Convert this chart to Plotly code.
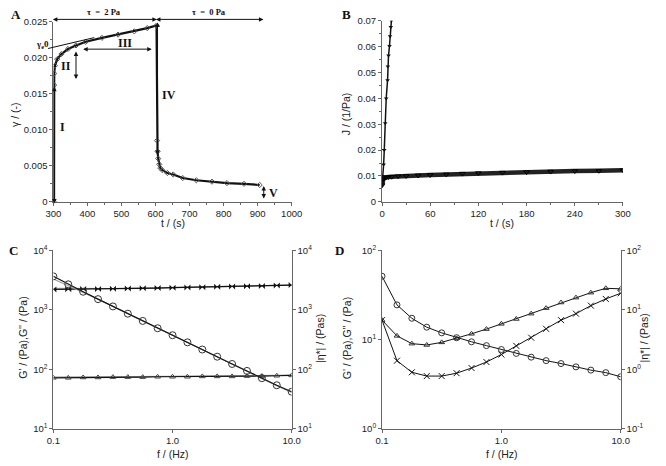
import plotly.graph_objects as go

W, H = 666, 466

# ---------------- Panel A : creep / recovery strain ----------------
a_t = [302, 302, 302.5, 304.6, 311.4, 323.7, 342.8, 366.5, 395, 442.7, 490, 537.7, 575.7, 603,
       604.5, 606, 608, 611, 614, 620, 635, 652, 680, 720, 766, 810, 860, 906]
a_gamma = [0, 0.0162, 0.0178, 0.0189, 0.0198, 0.0205, 0.0212, 0.0217, 0.0222, 0.02275, 0.0232, 0.02365, 0.0241, 0.02446,
           0.0085, 0.0070, 0.0060, 0.0052, 0.0047, 0.0044, 0.0040, 0.0038, 0.0033, 0.0030, 0.0028, 0.0026, 0.0025, 0.00234]
a_xticks = [300, 400, 500, 600, 700, 800, 900, 1000]
a_yticks = [0, 0.005, 0.010, 0.015, 0.020, 0.025]
a_yticklabels = ["0", "0.005", "0.010", "0.015", "0.020", "0.025"]
a_tangent_t = [284, 420]
a_tangent_g = [0.02126, 0.02278]

# ---------------- Panel B : compliance ----------------
b_fast_t = [0, 1.2, 2.0, 2.8, 4.0, 5.2, 6.9, 7.3, 8.1, 9.3, 10.0, 10.9, 11.7]
b_fast_J = [0.0060, 0.0100, 0.0144, 0.0200, 0.0304, 0.0399, 0.0470, 0.0523, 0.0565, 0.0602, 0.0640, 0.0675, 0.0700]
b_slow_t = [0, 1, 2, 3, 5, 8, 12, 20, 30, 45, 60, 80, 100, 120, 150, 180, 210, 240, 270, 300]
b_slow_J = [0.0065, 0.0086, 0.0091, 0.0093, 0.0095, 0.0096, 0.0097, 0.0099, 0.0100, 0.0102, 0.0104, 0.0106, 0.0109,
            0.0111, 0.0113, 0.0115, 0.0117, 0.0119, 0.0120, 0.0122]
b_xticks = [0, 60, 120, 180, 240, 300]
b_yticks = [0, 0.01, 0.02, 0.03, 0.04, 0.05, 0.06, 0.07]
b_yticklabels = ["0", "0.01", "0.02", "0.03", "0.04", "0.05", "0.06", "0.07"]

# ---------------- Panels C and D : frequency sweeps ----------------
freq = [0.1, 0.1334, 0.1778, 0.2371, 0.3162, 0.4217, 0.5623, 0.7499, 1.0,
        1.334, 1.778, 2.371, 3.162, 4.217, 5.623, 7.499, 10.0]
c_Gp = [2200, 2210, 2230, 2240, 2260, 2280, 2300, 2320, 2350, 2380, 2400, 2430, 2460, 2490, 2520, 2560, 2600]
c_Gp_b = [2300, 2280, 2270, 2270, 2280, 2290, 2310, 2330, 2360, 2390, 2410, 2440, 2470, 2500, 2530, 2570, 2610]
c_Gpp = [72, 72, 73, 73, 74, 74, 74, 75, 75, 75, 76, 76, 76, 77, 77, 78, 79]
c_Gpp_b = [74, 74, 74, 75, 75, 75, 76, 76, 76, 77, 77, 77, 78, 78, 79, 79, 80]
c_eta = [3650, 2680, 2010, 1510, 1140, 860, 650, 490, 374, 284, 215, 163, 123, 94, 71, 54, 42]
c_eta_b = [3300, 2550, 1990, 1500, 1135, 858, 648, 489, 373, 283, 214, 162, 122, 93, 70, 53, 41]

d_Gp = [16.5, 5.8, 4.3, 3.9, 3.9, 4.2, 4.8, 5.6, 6.8, 8.5, 10.5, 13.2, 16.5, 19.5, 24.0, 28.5, 33.0]
d_Gpp = [16.5, 11.0, 9.0, 8.7, 9.3, 10.3, 11.6, 13.1, 15.0, 17.0, 19.5, 22.5, 26.0, 29.5, 33.5, 37.5, 37.0]
d_eta = [36.6, 12.1, 7.2, 5.1, 4.1, 3.4, 2.9, 2.5, 2.15, 1.85, 1.6, 1.4, 1.25, 1.1, 0.97, 0.88, 0.75]

log_x_ticks = [0.1, 1, 10]
log_x_labels = ["0.1", "1.0", "10.0"]

# ---------------- figure ----------------
A_X = (46.7, 292.0)   # pixel extent of panel A plot area
A_Y = (15.0, 200.0)

def dom_x(p0, p1):
    return [p0 / W, p1 / W]

def dom_y(top, bottom):
    return [1 - bottom / H, 1 - top / H]

def a_px(t, g):
    """panel-A data -> figure pixels (same mapping as the axes below)"""
    return (A_X[0] + (t - 300) / 700 * (A_X[1] - A_X[0]),
            A_Y[1] - g / 0.025 * (A_Y[1] - A_Y[0]))

fig = go.Figure()

dark = "#111111"
tickfont = dict(family="Liberation Sans, Arial, sans-serif", size=9.5, color="#222")

# A
fig.add_trace(go.Scatter(x=a_t, y=a_gamma, xaxis="x", yaxis="y", mode="lines+markers",
                         line=dict(color=dark, width=2.2),
                         marker=dict(symbol="diamond-open", size=4, color="#555", line=dict(width=1)),
                         showlegend=False))

# B
fig.add_trace(go.Scatter(x=b_slow_t, y=b_slow_J, xaxis="x2", yaxis="y2", mode="lines+markers",
                         line=dict(color="#222", width=4.5),
                         marker=dict(symbol="triangle-down-open", size=5, color="#000", line=dict(width=1)),
                         showlegend=False))
fig.add_trace(go.Scatter(x=b_fast_t, y=b_fast_J, xaxis="x2", yaxis="y2", mode="lines+markers",
                         line=dict(color=dark, width=1.5),
                         marker=dict(symbol="triangle-down", size=4, color=dark),
                         showlegend=False))

# C
for yv in (c_Gp_b, c_Gpp_b):
    fig.add_trace(go.Scatter(x=freq, y=yv, xaxis="x3", yaxis="y3", mode="lines",
                             line=dict(color="#999", width=1.2), showlegend=False))
fig.add_trace(go.Scatter(x=freq, y=c_eta_b, xaxis="x3", yaxis="y4", mode="lines",
                         line=dict(color="#999", width=1.2), showlegend=False))
fig.add_trace(go.Scatter(x=freq, y=c_Gp, xaxis="x3", yaxis="y3", mode="lines+markers",
                         line=dict(color=dark, width=1.2),
                         marker=dict(symbol="bowtie", size=6, color=dark), showlegend=False))
fig.add_trace(go.Scatter(x=freq, y=c_Gpp, xaxis="x3", yaxis="y3", mode="lines+markers",
                         line=dict(color=dark, width=1.2),
                         marker=dict(symbol="triangle-up-open", size=5, color="#444", line=dict(width=1)),
                         showlegend=False))
fig.add_trace(go.Scatter(x=freq, y=c_eta, xaxis="x3", yaxis="y4", mode="lines+markers",
                         line=dict(color=dark, width=1.2),
                         marker=dict(symbol="circle-open", size=7, color="#333", line=dict(width=1)),
                         showlegend=False))

# D
fig.add_trace(go.Scatter(x=freq, y=d_Gp, xaxis="x4", yaxis="y5", mode="lines+markers",
                         line=dict(color=dark, width=1),
                         marker=dict(symbol="x-thin", size=6, color=dark, line=dict(width=1, color=dark)),
                         showlegend=False))
fig.add_trace(go.Scatter(x=freq, y=d_Gpp, xaxis="x4", yaxis="y5", mode="lines+markers",
                         line=dict(color=dark, width=1),
                         marker=dict(symbol="triangle-up-open", size=5, color="#333", line=dict(width=1)),
                         showlegend=False))
fig.add_trace(go.Scatter(x=freq, y=d_eta, xaxis="x4", yaxis="y6", mode="lines+markers",
                         line=dict(color=dark, width=1),
                         marker=dict(symbol="circle-open", size=6, color="#333", line=dict(width=1)),
                         showlegend=False))

axcommon = dict(showgrid=False, zeroline=False, showline=True, linecolor="#666", linewidth=1,
                ticks="outside", ticklen=3, tickcolor="#666", tickfont=tickfont, mirror=False)

fig.update_layout(
    width=W, height=H, margin=dict(l=0, r=0, t=0, b=0),
    paper_bgcolor="white", plot_bgcolor="white", showlegend=False,
    xaxis=dict(domain=dom_x(*A_X), anchor="y", range=[300, 1000], tickvals=a_xticks,
               minor=dict(dtick=50, ticklen=2, ticks="outside", tickcolor="#666"), **axcommon),
    yaxis=dict(domain=dom_y(*A_Y), anchor="x", range=[0, 0.025], tickvals=a_yticks, ticktext=a_yticklabels,
               minor=dict(dtick=0.0025, ticklen=2, ticks="outside", tickcolor="#666"), **axcommon),
    xaxis2=dict(domain=dom_x(385, 633), anchor="y2", range=[0, 300], tickvals=b_xticks,
                minor=dict(dtick=30, ticklen=2, ticks="outside", tickcolor="#666"), **axcommon),
    yaxis2=dict(domain=dom_y(14, 200), anchor="x2", range=[0, 0.07], tickvals=b_yticks, ticktext=b_yticklabels,
                minor=dict(dtick=0.005, ticklen=2, ticks="outside", tickcolor="#666"), **axcommon),
    xaxis3=dict(domain=dom_x(46.7, 292), anchor="y3", type="log", range=[-1, 1],
                tickvals=log_x_ticks, ticktext=log_x_labels, **axcommon),
    yaxis3=dict(domain=dom_y(249.7, 433), anchor="x3", type="log", range=[1, 4],
                tickvals=[10, 100, 1000, 10000],
                ticktext=["10<sup>1</sup>", "10<sup>2</sup>", "10<sup>3</sup>", "10<sup>4</sup>"], **axcommon),
    yaxis4=dict(overlaying="y3", anchor="x3", side="right", type="log", range=[1, 4],
                tickvals=[10, 100, 1000, 10000],
                ticktext=["10<sup>1</sup>", "10<sup>2</sup>", "10<sup>3</sup>", "10<sup>4</sup>"], **axcommon),
    xaxis4=dict(domain=dom_x(385, 630.7), anchor="y5", type="log", range=[-1, 1],
                tickvals=log_x_ticks, ticktext=log_x_labels, **axcommon),
    yaxis5=dict(domain=dom_y(249.7, 433), anchor="x4", type="log", range=[0, 2],
                tickvals=[1, 10, 100],
                ticktext=["10<sup>0</sup>", "10<sup>1</sup>", "10<sup>2</sup>"], **axcommon),
    yaxis6=dict(overlaying="y5", anchor="x4", side="right", type="log", range=[-1, 2],
                tickvals=[0.1, 1, 10, 100],
                ticktext=["10<sup>-1</sup>", "10<sup>0</sup>", "10<sup>1</sup>", "10<sup>2</sup>"], **axcommon),
)

serif_b = dict(family="Liberation Serif, Times New Roman, serif", color="#111")
sans = dict(family="Liberation Sans, Arial, sans-serif", size=10.5, color="#222")

def ptext(px, py, text, font, angle=0, xanchor="center"):
    fig.add_annotation(x=px / W, y=1 - py / H, xref="paper", yref="paper", text=text, showarrow=False,
                       font=font, textangle=angle, xanchor=xanchor, yanchor="middle")

# panel letters
for px, py, t in [(8, 8, "A"), (348, 8, "B"), (6, 250, "C"), (341, 250, "D")]:
    ptext(px, py, "<b>%s</b>" % t, dict(serif_b, size=13))

# axis titles
ptext(170, 222, "t / (s)", sans)
ptext(7, 110, "γ / (-)", sans, angle=-90)
ptext(508, 222, "t / (s)", sans)
ptext(348, 110, "J / (1/Pa)", sans, angle=-90)
ptext(170, 459, "f / (Hz)", sans)
ptext(16, 340, "G' / (Pa),G'' / (Pa)", sans, angle=-90)
ptext(321, 340, "|η*| / (Pas)", sans, angle=-90)
ptext(508, 459, "f / (Hz)", sans)
ptext(349, 340, "G' / (Pa),G'' / (Pa)", sans, angle=-90)
ptext(655, 340, "|η*| / (Pas)", sans, angle=-90)

# arrows and construction line in panel A (given in panel-A data units, drawn in paper space)
def arrow(t0, g0, t1, g1, side="end+start", head=2):
    x0, y0 = a_px(t0, g0)
    x1, y1 = a_px(t1, g1)
    fig.add_annotation(x=x1 / W, y=1 - y1 / H, xref="paper", yref="paper",
                       ax=x0 - x1, ay=y0 - y1, axref="pixel", ayref="pixel",
                       text="", showarrow=True, arrowhead=head, arrowsize=0.9, arrowwidth=1,
                       arrowcolor="#111", arrowside=side, standoff=0, startstandoff=0)

def dtext(t, g, text, size):
    x, y = a_px(t, g)
    ptext(x, y, text, dict(serif_b, size=size))

arrow(a_tangent_t[0], a_tangent_g[0], a_tangent_t[1], a_tangent_g[1], side="none", head=0)
arrow(303, 0.02531, 604, 0.02531)
arrow(606, 0.02531, 917, 0.02531)
arrow(389, 0.02118, 589, 0.02118)
arrow(366.5, 0.02095, 366.5, 0.01703)
arrow(303, 0.0, 303, 0.01595)
arrow(606, 0.0246, 606, 0.0065)
arrow(918, 0.00234, 918, 0.00045)

dtext(450, 0.02635, "<b>τ  =  2 Pa</b>", 8.5)
dtext(756, 0.02635, "<b>τ  =  0 Pa</b>", 8.5)
dtext(509, 0.0220, "<b>III</b>", 12)
dtext(338, 0.0189, "<b>II</b>", 12)
dtext(326.5, 0.01045, "<b>I</b>", 12)
dtext(640, 0.01477, "<b>IV</b>", 12)
dtext(946, 0.00126, "<b>V</b>", 12)
ptext(36, 39, "<b>γ<sub>e</sub>0</b>", dict(serif_b, size=9))

fig.write_html("out.html", config={"displayModeBar": False},
               post_script="document.body.style.margin='0px';")
